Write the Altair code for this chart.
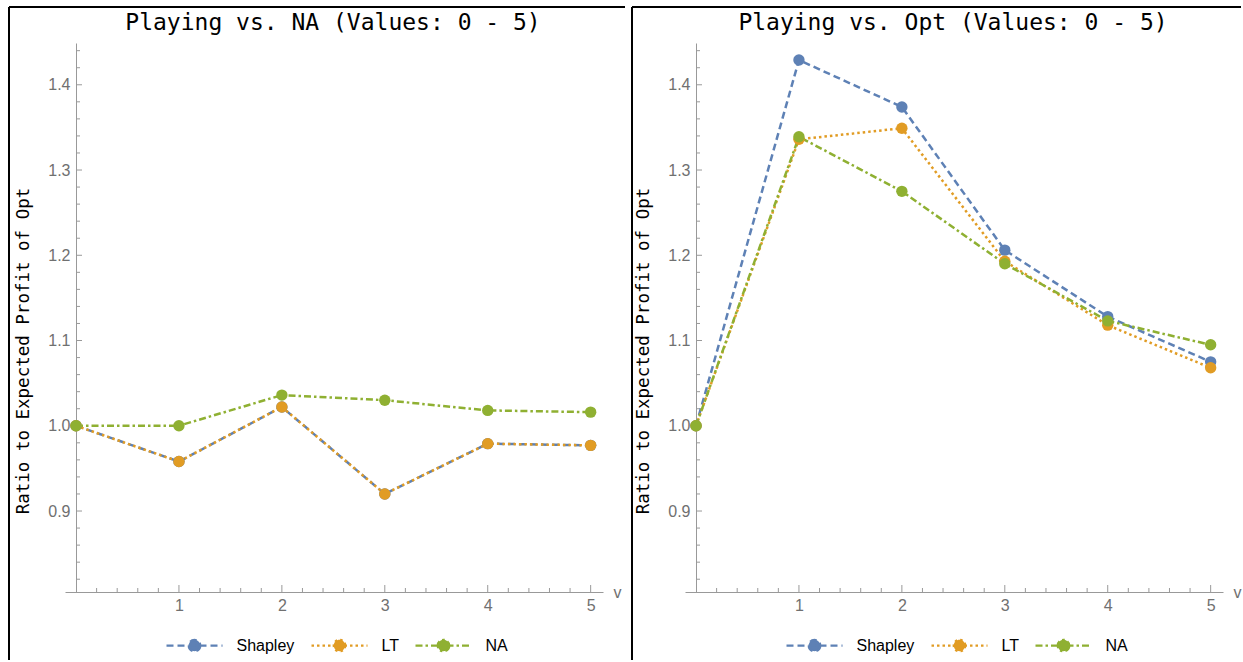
import altair as alt
import pandas as pd

# ---------------- data ----------------
v_values = [0, 1, 2, 3, 4, 5]
series_names = ["Shapley", "LT", "NA"]
series_colors = ["#5E81B5", "#E19C24", "#8FB032"]
series_dashes = [[7, 4], [2.5, 3], [7, 3, 2.5, 3]]

na_shapley = [1.0, 0.958, 1.022, 0.920, 0.979, 0.977]
na_lt = [1.0, 0.958, 1.022, 0.920, 0.979, 0.977]
na_na = [1.0, 1.0, 1.036, 1.030, 1.018, 1.016]

opt_shapley = [1.0, 1.429, 1.374, 1.206, 1.128, 1.075]
opt_lt = [1.0, 1.336, 1.349, 1.193, 1.118, 1.068]
opt_na = [1.0, 1.339, 1.275, 1.190, 1.123, 1.095]

panel_titles = ["Playing vs. NA (Values: 0 - 5)", "Playing vs. Opt (Values: 0 - 5)"]
y_title = "Ratio to Expected Profit of Opt"
x_title = "v"

y_major = [0.9, 1.0, 1.1, 1.2, 1.3, 1.4]
y_minor = [0.82, 0.84, 0.86, 0.88, 0.92, 0.94, 0.96, 0.98, 1.02, 1.04, 1.06, 1.08,
           1.12, 1.14, 1.16, 1.18, 1.22, 1.24, 1.26, 1.28, 1.32, 1.34, 1.36, 1.38,
           1.42, 1.44]
x_major = [1, 2, 3, 4, 5]
x_minor = [0.2, 0.4, 0.6, 0.8, 1.2, 1.4, 1.6, 1.8, 2.2, 2.4, 2.6, 2.8,
           3.2, 3.4, 3.6, 3.8, 4.2, 4.4, 4.6, 4.8]

# ---------------- style / layout ----------------
W, H = 538, 549
X_DOMAIN = [-0.107, 5.12]
Y_DOMAIN = [0.805, 1.449]
AXIS_GRAY = "#999999"
LABEL_GRAY = "#707070"
MONO = "DejaVu Sans Mono"
SANS = "Liberation Sans"
LEGEND_PATH = ("M-4,0H4M0.82,0A0.82,0.82,0,1,1,-0.82,0"
               "A0.82,0.82,0,1,1,0.82,0Z")


def panel(series_values, title, left):
    rows = []
    for name, vals in zip(series_names, series_values):
        for v, r in zip(v_values, vals):
            rows.append({"v": v, "ratio": r, "series": name})
    df = pd.DataFrame(rows)

    xs = alt.Scale(domain=X_DOMAIN, nice=False, zero=False)
    ys = alt.Scale(domain=Y_DOMAIN, nice=False, zero=False)
    x_axis = alt.Axis(values=x_major, format="d", ticks=False, grid=False,
                      domainColor=AXIS_GRAY, domainWidth=1,
                      labelColor=LABEL_GRAY, labelFont=SANS, labelFontSize=16,
                      labelPadding=5, title=x_title, titleFont=SANS,
                      titleFontSize=16, titleFontWeight="normal",
                      titleColor=LABEL_GRAY, titleX=552, titleY=0,
                      titleAlign="center", titleBaseline="middle")
    y_axis = alt.Axis(values=y_major, format=".1f", ticks=False, grid=False,
                      domainColor=AXIS_GRAY, domainWidth=1, offset=-11,
                      labelColor=LABEL_GRAY, labelFont=SANS, labelFontSize=16,
                      labelPadding=6, title=None)

    leg = alt.Legend(orient="none", legendX=101, legendY=594,
                     direction="horizontal", columns=3, title=None,
                     symbolType=LEGEND_PATH, symbolSize=196,
                     symbolStrokeWidth=2.3, symbolOffset=20, labelOffset=33.5,
                     labelFont=SANS, labelFontSize=16, labelColor="black",
                     columnPadding=11, padding=0, symbolOpacity=1)

    color = alt.Color("series:N", scale=alt.Scale(domain=series_names, range=series_colors),
                      legend=leg)
    dash = alt.StrokeDash("series:N", scale=alt.Scale(domain=series_names, range=series_dashes),
                          legend=leg)
    x_enc = alt.X("v:Q", scale=xs, axis=x_axis)
    y_enc = alt.Y("ratio:Q", scale=ys, axis=y_axis)

    lines = alt.Chart(df).mark_line(strokeWidth=2.5).encode(
        x=x_enc, y=y_enc, color=color, strokeDash=dash)
    points = alt.Chart(df).mark_point(filled=True, size=130, opacity=1).encode(
        x=x_enc, y=y_enc, color=color)

    def yticks(vals, size):
        return alt.Chart(pd.DataFrame({"t": vals})).mark_tick(
            orient="horizontal", size=size, thickness=1, xOffset=size / 2,
            color=AXIS_GRAY, opacity=1).encode(
            x=alt.XDatum(0, scale=xs, axis=x_axis),
            y=alt.Y("t:Q", scale=ys, axis=y_axis))

    def xticks(vals, size):
        return alt.Chart(pd.DataFrame({"t": vals})).mark_tick(
            orient="vertical", size=size, thickness=1, yOffset=-size / 2,
            color=AXIS_GRAY, opacity=1).encode(
            x=alt.X("t:Q", scale=xs, axis=x_axis),
            y=alt.YDatum(Y_DOMAIN[0], scale=ys, axis=y_axis))

    one = pd.DataFrame({"k": [0]})
    frame = []
    if left:
        frame.append(alt.Chart(one).mark_rule(color="black", strokeWidth=2).encode(
            x=alt.value(-56), y=alt.value(-36), y2=alt.value(617)))
        frame.append(alt.Chart(one).mark_rule(color="black", strokeWidth=2).encode(
            x=alt.value(-56), x2=alt.value(560), y=alt.value(-36)))
    else:
        frame.append(alt.Chart(one).mark_rule(color="white", strokeWidth=1, opacity=0).encode(
            x=alt.value(-58.5), y=alt.value(0), y2=alt.value(10)))
        frame.append(alt.Chart(one).mark_rule(color="black", strokeWidth=2).encode(
            x=alt.value(-53), y=alt.value(-36), y2=alt.value(617)))
        frame.append(alt.Chart(one).mark_rule(color="black", strokeWidth=2).encode(
            x=alt.value(-53), x2=alt.value(556), y=alt.value(-36)))

    title_txt = alt.Chart(pd.DataFrame({"t": [title]})).mark_text(
        font=MONO, fontSize=23, align="center", baseline="alphabetic",
        color="black").encode(x=alt.value(268), y=alt.value(-13), text="t:N")
    ytitle_txt = alt.Chart(pd.DataFrame({"t": [y_title]})).mark_text(
        font=MONO, fontSize=17.5, align="center", baseline="middle", angle=270,
        color="black").encode(x=alt.value(-41), y=alt.value(308), text="t:N")

    layers = frame + [yticks(y_major, 6), yticks(y_minor, 4),
                      xticks(x_major, 7), xticks(x_minor, 4),
                      lines, points, title_txt, ytitle_txt]
    return alt.layer(*layers).properties(width=W, height=H)


left_panel = panel([na_shapley, na_lt, na_na], panel_titles[0], True)
right_panel = panel([opt_shapley, opt_lt, opt_na], panel_titles[1], False)

chart = alt.hconcat(left_panel, right_panel, spacing=0).resolve_scale(
    x="independent", y="independent", color="independent", strokeDash="independent"
).properties(
    padding={"left": 8, "top": 6, "right": 0, "bottom": 0},
    background="white",
).configure_view(strokeWidth=0)

chart.save("out.html", embed_options={"renderer": "svg", "actions": False})
